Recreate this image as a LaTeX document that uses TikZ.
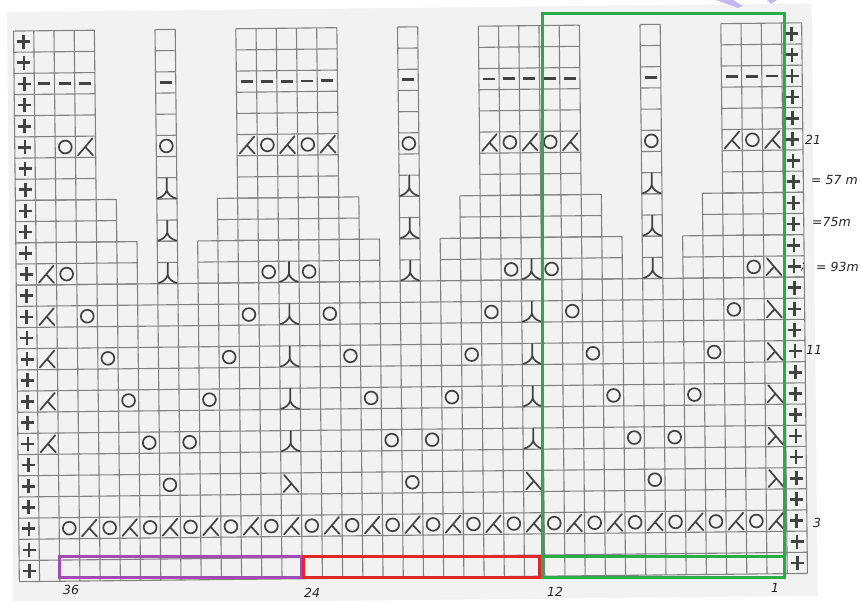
\documentclass[tikz,border=0pt]{standalone}
\usepackage{fontspec}
\newfontfamily\hand{DejaVu Sans}
\definecolor{gline}{RGB}{130,130,130}
\definecolor{symc}{RGB}{66,66,66}
\definecolor{bgc}{RGB}{242,242,242}
\definecolor{pboxc}{RGB}{160,76,180}
\definecolor{rboxc}{RGB}{226,38,43}
\definecolor{gboxc}{RGB}{40,172,72}
\definecolor{lav}{RGB}{200,182,240}
\begin{document}
\begin{tikzpicture}[x=1pt,y=1pt,
  gridl/.style={draw=gline, line width=1.1pt},
  sym/.style={draw=symc, line width=1.7pt, line cap=round},
  lbl/.style={font=\hand\itshape\fontsize{12.5}{14}\selectfont, text=black!85, inner sep=0pt, anchor=west},
  boxl/.style={line width=3pt},
  pics/kplus/.style={code={\draw[sym, line width=2.6pt, line cap=butt] (-6.5pt,0)--(6.5pt,0) (0,-7pt)--(0,7pt);}},
  pics/kdash/.style={code={\draw[sym, line width=2.8pt, line cap=butt] (-6pt,0)--(6pt,0);}},
  pics/kyo/.style={code={\draw[sym] (0,0) circle[radius=6.4pt];}},
  pics/kcdd/.style={code={\draw[sym] (0,10pt)--(0,-2pt) (-9pt,-10pt) .. controls (-5pt,-9pt) and (-1pt,-6pt) .. (0,-2pt) .. controls (1pt,-6pt) and (5pt,-9pt) .. (9pt,-10pt);}},
  pics/kleft/.style={code={\draw[sym] (-7.5pt,-8.5pt)--(7pt,8.5pt) (-0.3pt,0pt)--(7.5pt,-8.5pt);}},
  pics/kright/.style={code={\draw[sym] (-7pt,8.5pt)--(7.5pt,-8.5pt) (0.3pt,0pt)--(-7.5pt,-8.5pt);}},
]
\useasboundingbox (0,0) rectangle (862,601);
\fill[white] (0,0) rectangle (862,601);
\begin{scope}[rotate around={0.6:(410,299)}]
\begin{scope}[shift={(16.4,23.4)}, x=20.21pt, y=21.18pt]
  \fill[bgc] (-0.32,-1.06) rectangle (39.5,26.9);
  % grid segments: a/b column bounds, p/q row bounds
  \foreach \a/\b/\p/\q in {0/39/0/14,
     0/6/14/16, 7/8/14/16, 9/18/14/16, 19/20/14/16, 21/30/14/16, 31/32/14/16, 33/39/14/16,
     0/5/16/18, 7/8/16/18, 10/17/16/18, 19/20/16/18, 22/29/16/18, 31/32/16/18, 34/39/16/18,
     0/4/18/26, 7/8/18/26, 11/16/18/26, 19/20/18/26, 23/28/18/26, 31/32/18/26, 35/39/18/26}
    {\draw[gridl, step=1] (\a,\p) grid (\b,\q);}
  % edge plus columns
  \foreach \r in {1,...,26} {\pic at (0.5,\r-0.5) {kplus}; \pic at (38.5,\r-0.5) {kplus};}
  % row 3
  \foreach \c in {2,4,...,36} {\pic at (\c+0.5,2.5) {kyo};}
  \foreach \c in {3,5,...,37} {\pic at (\c+0.5,2.5) {kleft};}
  % yarn overs
  \foreach \c/\r in {7/5,19/5,31/5,
     6/7,8/7,18/7,20/7,30/7,32/7,
     5/9,9/9,17/9,21/9,29/9,33/9,
     4/11,10/11,16/11,22/11,28/11,34/11,
     3/13,11/13,15/13,23/13,27/13,35/13,
     2/15,12/15,14/15,24/15,26/15,36/15,
     2/21,7/21,12/21,14/21,19/21,24/21,26/21,31/21,36/21}
    {\pic at (\c+0.5,\r-0.5) {kyo};}
  % left leaning decreases
  \foreach \c/\r in {1/7,1/9,1/11,1/13,1/15,
     3/21,11/21,13/21,15/21,23/21,25/21,27/21,35/21,37/21}
    {\pic at (\c+0.5,\r-0.5) {kleft};}
  % right leaning decreases
  \foreach \c/\r in {13/5,25/5,37/5,37/7,37/9,37/11,37/13,37/15}
    {\pic at (\c+0.5,\r-0.5) {kright};}
  % central double decreases
  \foreach \c/\r in {13/7,13/9,13/11,13/13,13/15,25/7,25/9,25/11,25/13,25/15,
     7/15,7/17,7/19,19/15,19/17,19/19,31/15,31/17,31/19}
    {\pic at (\c+0.5,\r-0.5) {kcdd};}
  % purl row
  \foreach \c in {1,2,3,7,11,12,13,14,15,19,23,24,25,26,27,31,35,36,37}
    {\pic at (\c+0.5,23.5) {kdash};}
\end{scope}
\end{scope}
% coloured boxes
\draw[boxl, pboxc] (59.5,23) rectangle (301.5,44);
\draw[boxl, rboxc] (303.5,23) rectangle (539.5,44);
\draw[boxl, gboxc] (542,23) rectangle (784,44);
\draw[boxl, gboxc] (542,23) rectangle (784,587);
% watermark fragments
\fill[lav] (716,601) -- (733,601) -- (743,595) -- (738,593) -- cycle;
\fill[lav] (767,601) -- (777,601) -- (771,597) -- cycle;
% labels
\node[lbl] (l21) at (805,461) {21};
\node[lbl] (l57) at (811,421) {= 57 m};
\node[lbl] (l75) at (812,379) {=75m};
\node[lbl] (lsc) at (801,334) {;};
\node[lbl] (l93) at (816,334) {= 93m};
\node[lbl] (l11) at (806,251) {11};
\node[lbl] (l3) at (813,78) {3};
\node[lbl] (l36) at (63,11) {36};
\node[lbl] (l24) at (304,8) {24};
\node[lbl] (l12) at (547,9) {12};
\node[lbl] (l1) at (771,13) {1};
\end{tikzpicture}
\end{document}
